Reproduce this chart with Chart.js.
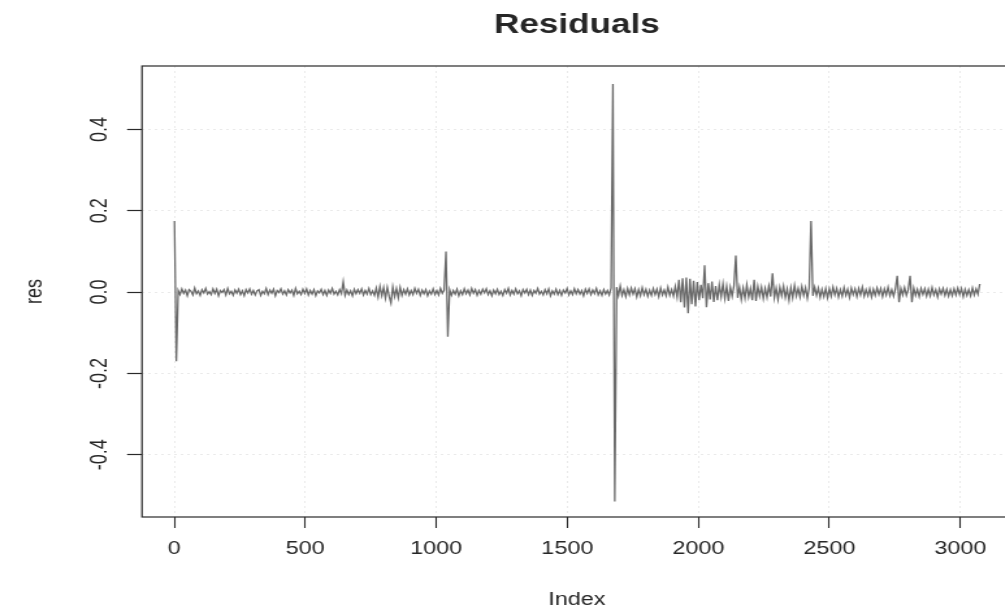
<!DOCTYPE html>
<html>
<head>
<meta charset="utf-8">
<script src="https://cdn.jsdelivr.net/npm/chart.js@4/dist/chart.umd.min.js"></script>
<style>
  html, body { margin: 0; padding: 0; background: #fff; overflow: hidden; }
  #wrap { width: 1005px; height: 614px; overflow: hidden; position: relative; }
  canvas { display: block; transform: scaleX(1.3); transform-origin: 0 0; }
</style>
</head>
<body>
<div id="wrap"><canvas id="c" width="785" height="614"></canvas></div>
<script>
// ---- data ----
const title = 'Residuals';
const xLabel = 'Index';
const yLabel = 'res';
const xTicks = [0, 500, 1000, 1500, 2000, 2500, 3000];
const xTickLabels = ['0', '500', '1000', '1500', '2000', '2500', '3000'];
const yTicks = [-0.4, -0.2, 0.0, 0.2, 0.4];
const yTickLabels = ['-0.4', '-0.2', '0.0', '0.2', '0.4'];
// residuals sampled every 7th index (first index = 1), in thousandths
const sampleStep = 7;
const resMilli = [
  175,-170,4,-6,8,-3,5,-9,6,2,-7,10,-4,3,-8,6,-2,9,-5,1,
  -6,8,-3,7,-9,4,-1,6,-7,9,-4,2,-8,5,-3,7,-6,3,-9,6,
  -2,8,-5,4,-7,3,6,-8,2,-4,9,-6,5,-3,7,-9,4,-1,8,-5,
  3,-7,6,-2,5,-8,9,-4,2,-6,7,-3,8,-7,4,-5,6,-9,3,-2,
  7,-6,4,-8,5,-3,9,-5,2,-7,6,-4,25,-8,5,-6,3,-9,7,-4,
  6,-3,8,-7,4,-5,9,-6,3,-8,10,-12,14,-9,11,-15,12,-10,-27,13,
  -11,9,-14,12,-8,6,-5,8,-7,4,-6,9,-3,7,-8,5,-4,6,-9,3,
  -5,8,-6,4,-7,9,-3,5,100,-110,6,-8,4,-5,7,-9,3,-6,8,-4,
  5,-7,9,-3,6,-8,4,-5,7,-2,8,-6,3,-9,5,-4,7,-6,2,-8,
  6,-3,9,-7,4,-5,8,-4,3,-9,6,-2,7,-6,5,-8,4,-3,9,-5,
  2,-7,6,-4,8,-9,3,-5,7,-6,4,-8,5,-2,9,-7,3,-6,8,-4,
  6,-5,4,-9,7,-3,8,-6,5,-4,9,-7,3,-8,6,-5,4,-7,10,512,
  -515,12,-9,15,-8,6,-11,9,-7,10,-5,8,-12,6,-9,11,-6,7,-10,5,
  -8,9,-6,7,-11,10,-7,5,-9,12,
  -8,6,-10,14,-12,30,-25,34,-38,36,
  -52,33,-30,28,-35,25,-20,18,-15,66,
  -37,22,-18,26,-24,15,-20,18,-12,20,
  -16,14,-22,12,-10,16,90,-14,12,-18,
  10,-15,18,-12,9,-20,30,-22,14,-10,
  12,-16,9,-13,15,-11,46,-14,10,-18,
  12,-9,15,-13,8,-20,11,-14,16,-10,
  9,-12,14,-8,11,-15,10,175,-9,12,
  -8,10,-13,7,-11,9,-14,8,-10,12,
  -7,9,-12,6,-10,11,-8,7,-13,10,-6,8,-11,9,-7,12,-10,6,-9,8,
  -12,7,-8,10,-6,9,-11,8,-7,12,-9,6,-10,8,40,-25,9,-7,11,-8,
  6,40,-25,10,-8,7,-11,9,-6,8,-10,7,-9,11,-7,6,-12,8,-5,9,
  -8,7,-10,6,-9,8,-7,10,-6,9,-11,7,-8,6,-9,10,-7,8,-5,20
];
const xRange = [-123, 3197];
const yRange = [-0.553, 0.556];

// ---- build ----
const points = resMilli.map((v, i) => ({ x: 1 + i * sampleStep, y: v / 1000 }));

const boxPlugin = {
  id: 'box',
  afterDraw(chart) {
    const { ctx, chartArea: a } = chart;
    ctx.save();
    ctx.strokeStyle = '#2a2a2a';
    ctx.lineWidth = 1.2;
    ctx.strokeRect(a.left, a.top, a.right - a.left, a.bottom - a.top);
    ctx.restore();
  }
};

const textColor = '#262626';
const fontFam = '"Liberation Sans", Arial, Helvetica, sans-serif';

new Chart(document.getElementById('c'), {
  type: 'line',
  data: {
    datasets: [{
      data: points,
      borderColor: '#6a6a6a',
      borderWidth: 1.3,
      pointRadius: 0,
      tension: 0,
      fill: false
    }]
  },
  options: {
    responsive: false,
    animation: false,
    devicePixelRatio: 1,
    layout: { padding: { left: 0, right: 6.54, top: 0, bottom: 0 } },
    plugins: {
      legend: { display: false },
      tooltip: { enabled: false },
      title: {
        display: true,
        text: title,
        fullSize: false,
        color: textColor,
        font: { family: fontFam, size: 27, weight: 'bold', lineHeight: 1.2 },
        padding: { top: 9, bottom: 24.6 }
      }
    },
    scales: {
      x: {
        type: 'linear',
        min: xRange[0],
        max: xRange[1],
        afterBuildTicks: s => { s.ticks = xTicks.map(v => ({ value: v })); },
        afterFit: s => { s.height = 97; },
        ticks: {
          autoSkip: false,
          maxRotation: 0,
          padding: 10,
          color: textColor,
          font: { family: fontFam, size: 18 },
          callback: (v) => xTickLabels[xTicks.indexOf(v)]
        },
        grid: {
          color: '#eaeaea',
          lineWidth: 1,
          tickColor: '#2a2a2a',
          tickLength: 11,
          tickWidth: 1.1
        },
        border: { display: false, dash: [2, 3] },
        title: {
          display: true,
          text: xLabel,
          color: textColor,
          font: { family: fontFam, size: 18 },
          padding: { top: 0, bottom: 3 }
        }
      },
      y: {
        type: 'linear',
        min: yRange[0],
        max: yRange[1],
        afterBuildTicks: s => { s.ticks = yTicks.map(v => ({ value: v })); },
        afterFit: s => { s.width = 109.23; },
        ticks: {
          autoSkip: false,
          minRotation: 90,
          maxRotation: 90,
          crossAlign: 'center',
          padding: 5,
          color: textColor,
          font: { family: fontFam, size: 18 },
          callback: (v) => yTickLabels[yTicks.findIndex(t => Math.abs(t - v) < 1e-9)]
        },
        grid: {
          color: '#eaeaea',
          lineWidth: 1,
          tickColor: '#2a2a2a',
          tickLength: 11.5,
          tickWidth: 1.2
        },
        border: { display: false, dash: [2, 3] },
        title: {
          display: true,
          text: yLabel,
          color: textColor,
          font: { family: fontFam, size: 18 },
          padding: { top: 16, bottom: 0 }
        }
      }
    }
  },
  plugins: [boxPlugin]
});
</script>
</body>
</html>
